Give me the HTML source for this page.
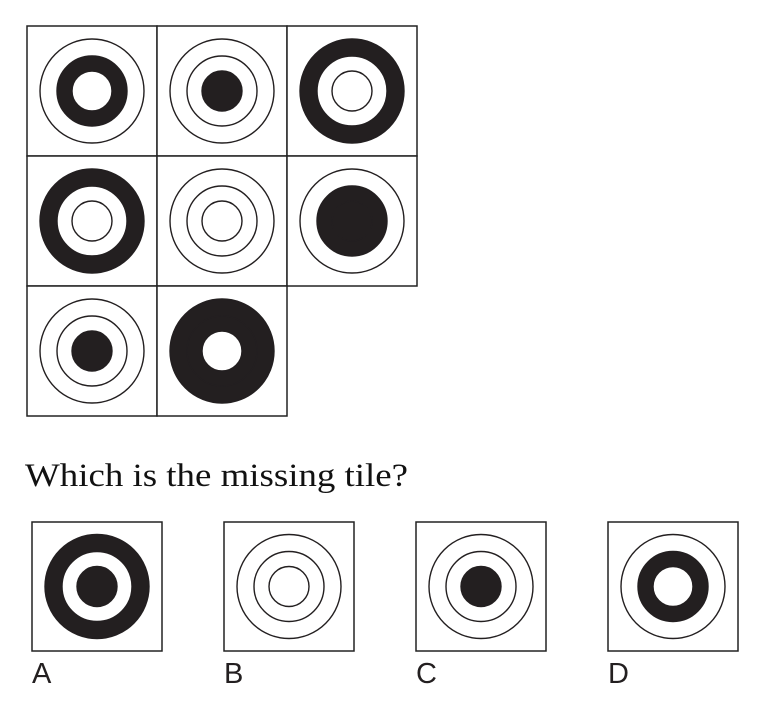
<!DOCTYPE html>
<html><head><meta charset="utf-8"><style>
html,body{margin:0;padding:0;background:#fff;}
svg{display:block;}
</style></head><body>
<svg id="chart" width="774" height="706" viewBox="0 0 774 706" xmlns="http://www.w3.org/2000/svg">
<g id="grid"></g>
<text x="25" y="486" font-family="'Liberation Serif', serif" font-size="33" textLength="383" lengthAdjust="spacingAndGlyphs" fill="#111">Which is the missing tile?</text>
<g id="answers"></g>
</svg>
<script>
// band states: [outer band 52-35, middle band 35-20, inner disk <20]; 'b' black, 'w' white
const gridTiles = [
  ['w','b','w'], ['w','w','b'], ['b','w','w'],
  ['b','w','w'], ['w','w','w'], ['w','b','b'],
  ['w','w','b'], ['b','b','w']
];
const answerLabels = ['A','B','C','D'];
const answerTiles = [['b','w','b'], ['w','w','w'], ['w','w','b'], ['w','b','w']];
const radii = [52, 35, 20];
const NS = 'http://www.w3.org/2000/svg';

function drawTile(parent, x, y, w, h, bands, name) {
  const g = document.createElementNS(NS, 'g');
  
  
  const r = document.createElementNS(NS, 'rect');
  r.setAttribute('x', x); r.setAttribute('y', y);
  r.setAttribute('width', w); r.setAttribute('height', h);
  r.setAttribute('fill', '#fff'); r.setAttribute('stroke', '#222'); r.setAttribute('stroke-width', '1.5');
  
  
  g.appendChild(r);
  const cx = x + w / 2, cy = y + h / 2;
  bands.forEach((b, i) => {
    const c = document.createElementNS(NS, 'circle');
    c.setAttribute('cx', cx); c.setAttribute('cy', cy); c.setAttribute('r', radii[i]);
    c.setAttribute('fill', b === 'b' ? '#231f20' : '#fff');
    c.setAttribute('stroke', '#231f20'); c.setAttribute('stroke-width', '1.4');
    
    
    g.appendChild(c);
  });
  parent.appendChild(g);
}

const grid = document.getElementById('grid');
gridTiles.forEach((t, i) => {
  const col = i % 3, row = Math.floor(i / 3);
  drawTile(grid, 27 + col * 130, 26 + row * 130, 130, 130, t, 'grid-tile-' + (i + 1));
});

const ans = document.getElementById('answers');
answerTiles.forEach((t, i) => {
  const x = 32 + i * 192;
  drawTile(ans, x, 522, 130, 129, t, 'answer-tile-' + answerLabels[i].toLowerCase());
  const tx = document.createElementNS(NS, 'text');
  tx.setAttribute('x', x); tx.setAttribute('y', 683);
  tx.setAttribute('font-family', "'Liberation Sans', sans-serif");
  tx.setAttribute('font-size', '29');
  tx.setAttribute('fill', '#231f20');
  
  
  tx.textContent = answerLabels[i];
  ans.appendChild(tx);
});
</script>
</body></html>
